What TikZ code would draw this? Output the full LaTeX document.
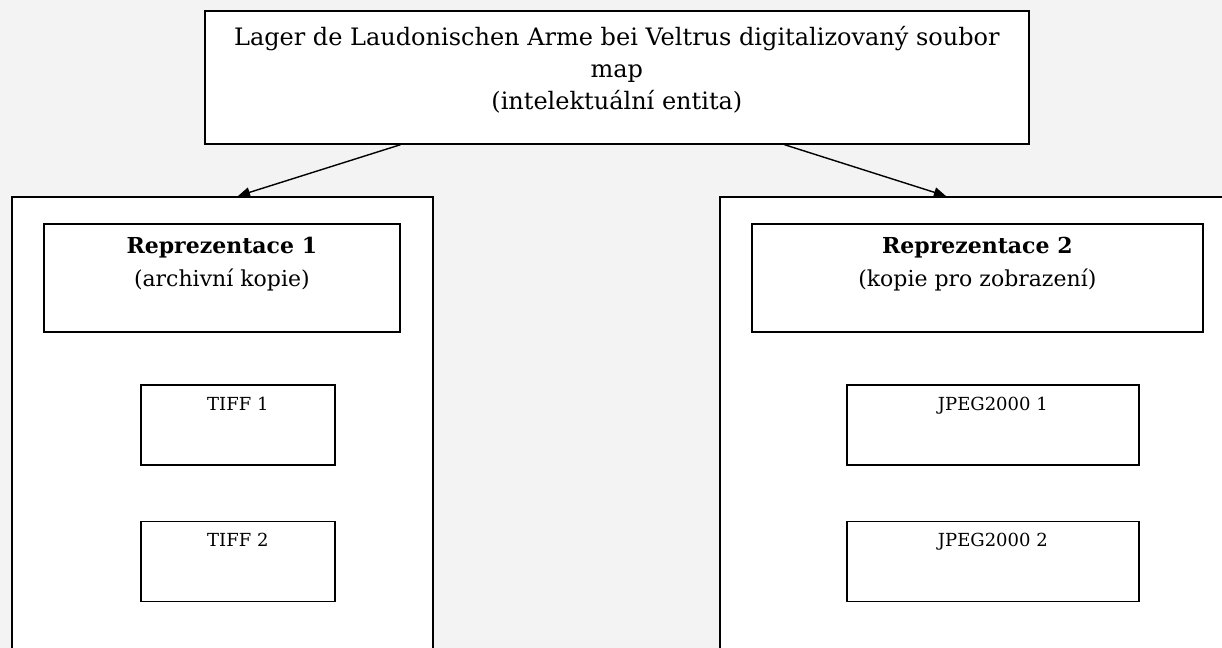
\documentclass[tikz,border=0pt]{standalone}
\usepackage{fontspec}
\setmainfont{DejaVu Serif}
\usetikzlibrary{calc,positioning,arrows.meta}
\definecolor{pagegray}{HTML}{F3F3F3}
\newcommand{\picw}{1222}
\newcommand{\pich}{648}
% text set at the top of a box of fixed size
\newcommand{\boxtext}[4]{\parbox[c][#2][t]{#1}{\centering\vspace*{#3}#4}}
\tikzset{
  box/.style={draw, line width=0.85pt, fill=white, inner sep=0pt, anchor=north west},
  filebox/.style={box, font=\fontsize{9}{11}\selectfont},
  link/.style={line width=0.7pt, -{Triangle[length=6pt,width=5pt]}},
}

\begin{document}
\begin{tikzpicture}[x=0.5pt, y=-0.5pt]
    \useasboundingbox (0,0) rectangle (\picw,\pich);
    \clip (0,0) rectangle (\picw,\pich);
    \fill[pagegray] (0,0) rectangle (\picw,\pich);
    %
    \node[box, font=\fontsize{12}{16}\selectfont] (entity) at (204,10)
        {\boxtext{412pt}{66.5pt}{7.5pt}{Lager de Laudonischen Arme bei Veltrus digitalizovaný soubor\\
         map\\
         (intelektuální entita)}};

    % the two representations run past the bottom (and right) edge
    \node[box, minimum width=210.5pt, minimum height=235pt] (repA) at (11,196) {};
    \node[box, minimum width=265.5pt, minimum height=235pt] (repB) at (719,196) {};

    \node[box, font=\fontsize{11}{16.5}\selectfont] (titleA) at (43,223)
        {\boxtext{178pt}{54pt}{6.5pt}{\textbf{Reprezentace 1}\\(archivní kopie)}};
    \node[box, font=\fontsize{11}{16.5}\selectfont] (titleB) at (751,223)
        {\boxtext{225.5pt}{54pt}{6.5pt}{\textbf{Reprezentace 2}\\(kopie pro zobrazení)}};

    \node[filebox] (tiffA) at (140,384) {\boxtext{97pt}{40pt}{6pt}{TIFF 1}};
    \node[filebox, below=27.5pt of tiffA.south west, anchor=north west] (tiffB)
        {\boxtext{97pt}{40pt}{6pt}{TIFF 2}};

    \node[filebox] (jpegA) at (846,384) {\boxtext{146pt}{40pt}{6pt}{JPEG2000 1}};
    \node[filebox, below=27.5pt of jpegA.south west, anchor=north west] (jpegB)
        {\boxtext{146pt}{40pt}{6pt}{JPEG2000 2}};

    \draw[link] ($(entity.south west)!0.238!(entity.south east)$)
        -- ($(repA.north west)!0.537!(repA.north east)$);
    \draw[link] ($(entity.south west)!0.703!(entity.south east)$)
        -- ($(repB.north west)!0.426!(repB.north east)$);
\end{tikzpicture}
\end{document}
